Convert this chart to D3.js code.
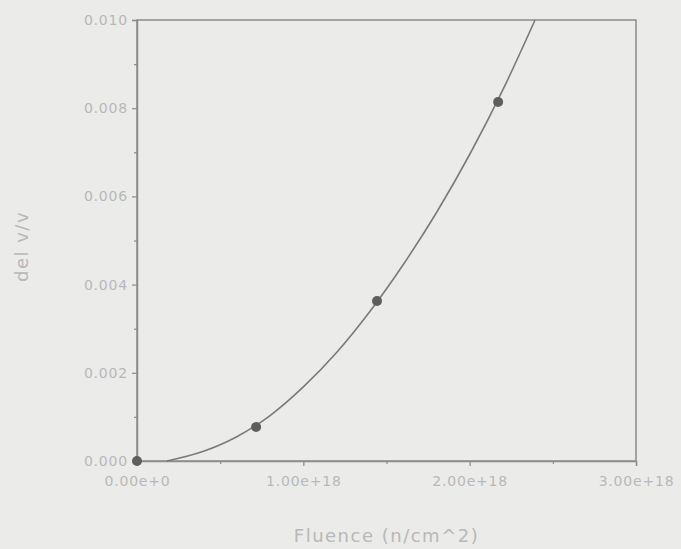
<!DOCTYPE html>
<html><head><meta charset="utf-8">
<script src="https://cdn.jsdelivr.net/npm/d3@7"></script>
<style>
html,body{margin:0;padding:0;background:#ebebea;}
svg{display:block;}
</style></head>
<body>
<script>
// Data (fluence in n/cm^2, del v/v)
const measuredFluence = [0, 0.716e18, 1.443e18, 2.171e18];
const measuredDelV = [0.0, 0.00077, 0.00363, 0.00814];
// Fitted curve, points
const curveFluence = [0.18e18, 0.4e18, 0.6e18, 0.8e18, 1.0e18, 1.2e18, 1.4e18, 1.6e18, 1.8e18, 2.0e18, 2.2e18, 2.393e18];
const curveDelV = [0.0, 0.00022, 0.00055, 0.00103, 0.00168, 0.00246, 0.00339, 0.00445, 0.00563, 0.00695, 0.00842, 0.0100];
const xTickValues = [0, 1e18, 2e18, 3e18];
const xTickLabels = ["0.00e+0", "1.00e+18", "2.00e+18", "3.00e+18"];
const yTickValues = [0, 0.002, 0.004, 0.006, 0.008, 0.010];
const yTickLabels = ["0.000", "0.002", "0.004", "0.006", "0.008", "0.010"];
const xMinor = [0.5e18, 1.5e18, 2.5e18];
const yMinor = [0.001, 0.003, 0.005, 0.007, 0.009];
const xTitle = "Fluence (n/cm^2)";
const yTitle = "del v/v";

const W = 681, H = 549;
const m = {left: 137, right: 45, top: 20, bottom: 88};
const svg = d3.select("body").append("svg").attr("width", W).attr("height", H);
svg.append("rect").attr("width", W).attr("height", H).attr("fill", "#ebebea");

const x = d3.scaleLinear().domain([0, 3e18]).range([m.left, W - m.right]);
const y = d3.scaleLinear().domain([0, 0.010]).range([H - m.bottom, m.top]);

const axisColor = "#8c8c8c", textColor = "#b8b8b8";
const font = "DejaVu Sans, Verdana, sans-serif";

// frame
svg.append("rect").attr("x", x(0)).attr("y", y(0.010))
  .attr("width", x(3e18) - x(0)).attr("height", y(0) - y(0.010))
  .attr("fill", "none").attr("stroke", axisColor).attr("stroke-width", 1.5);

// x axis
const xAxis = d3.axisBottom(x).tickValues(xTickValues)
  .tickFormat((d, i) => xTickLabels[i]).tickSize(5).tickPadding(10);
svg.append("g").attr("transform", `translate(0,${y(0)})`).call(xAxis);
svg.append("g").attr("transform", `translate(0,${y(0)})`)
  .call(d3.axisBottom(x).tickValues(xMinor).tickFormat("").tickSize(3))
  .call(g => g.select(".domain").remove());

// y axis
const yAxis = d3.axisLeft(y).tickValues(yTickValues)
  .tickFormat((d, i) => yTickLabels[i]).tickSize(5).tickPadding(4);
svg.append("g").attr("transform", `translate(${x(0)},0)`).call(yAxis);
svg.append("g").attr("transform", `translate(${x(0)},0)`)
  .call(d3.axisLeft(y).tickValues(yMinor).tickFormat("").tickSize(3))
  .call(g => g.select(".domain").remove());

svg.selectAll(".domain").attr("stroke", axisColor).attr("stroke-width", 1.5);
svg.selectAll(".tick line").attr("stroke", axisColor).attr("stroke-width", 1.2);
svg.selectAll(".tick text").attr("fill", textColor)
  .style("font-family", font).style("font-size", "14px").style("letter-spacing", "0.8px");

// curve
const curveData = curveFluence.map((f, i) => [f, curveDelV[i]]);
svg.append("path").datum(curveData)
  .attr("fill", "none").attr("stroke", "#7a7a7a").attr("stroke-width", 1.6)
  .attr("d", d3.line().x(d => x(d[0])).y(d => y(d[1])).curve(d3.curveMonotoneX));

// points
svg.selectAll("circle.pt").data(measuredFluence.map((f, i) => [f, measuredDelV[i]]))
  .enter().append("circle").attr("class", "pt")
  .attr("cx", d => x(d[0])).attr("cy", d => y(d[1])).attr("r", 5)
  .attr("fill", "#5e5e5e");

// titles
svg.append("text").attr("x", (x(0) + x(3e18)) / 2).attr("y", 542)
  .attr("text-anchor", "middle").attr("fill", textColor)
  .style("font-family", font).style("font-size", "18px").style("letter-spacing", "1.5px").text(xTitle);
svg.append("text").attr("transform", `translate(28,${(y(0) + y(0.010)) / 2 + 6}) rotate(-90)`)
  .attr("text-anchor", "middle").attr("fill", textColor)
  .style("font-family", font).style("font-size", "18px").style("letter-spacing", "1.5px").text(yTitle);
</script>
</body></html>
